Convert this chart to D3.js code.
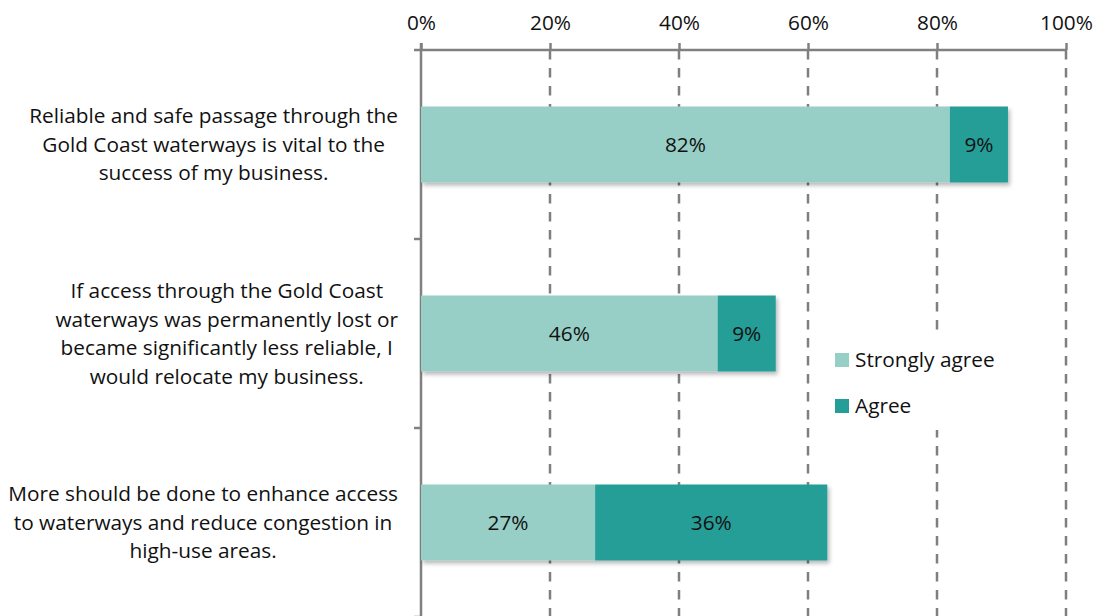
<!DOCTYPE html>
<html>
<head>
<meta charset="utf-8">
<script src="https://cdn.jsdelivr.net/npm/d3@7/dist/d3.min.js"></script>
<style>
  html, body { margin: 0; padding: 0; background: #fff; }
  svg text { font-family: "Open Sans", Lato, sans-serif; fill: #111; }
</style>
</head>
<body>
<svg id="chart" width="1098" height="616"></svg>
<script>
// Survey statements (each split into display lines)
const categories = [
  ["Reliable and safe passage through the", "Gold Coast waterways is vital to the", "success of my business."],
  ["If access through the Gold Coast", "waterways was permanently lost or", "became significantly less reliable, I", "would relocate my business."],
  ["More should be done to enhance access", "to waterways and reduce congestion in", "high-use areas."]
];
const seriesNames = ["Strongly agree", "Agree"];
const stronglyAgree = [82, 46, 27];
const agree = [9, 9, 36];
const tickValues = [0, 20, 40, 60, 80, 100];
const colors = ["#97cfc6", "#259e98"];

const FONT = 20.8;
const svg = d3.select("#chart");
const W = 1098, H = 616;
const margin = { left: 421, right: 32, top: 50, bottom: -1 };

const x = d3.scaleLinear().domain([0, 100]).range([margin.left, W - margin.right]);
const idx = d3.range(categories.length);
const y = d3.scaleBand().domain(idx).range([margin.top, H - margin.bottom])
  .paddingInner(0.598).paddingOuter(0.299);

const defs = svg.append("defs");
const f = defs.append("filter").attr("id", "shadow").attr("x", "-5%").attr("y", "-20%").attr("width", "115%").attr("height", "160%");
f.append("feDropShadow").attr("dx", 2).attr("dy", 3).attr("stdDeviation", 2.2)
  .attr("flood-color", "#000").attr("flood-opacity", 0.28);

// dashed gridlines
svg.append("g").selectAll("line").data(tickValues.slice(1)).join("line")
  .attr("x1", d => x(d)).attr("x2", d => x(d))
  .attr("y1", margin.top).attr("y2", H)
  .attr("stroke", "#7f7f7f").attr("stroke-width", 2.5)
  .attr("stroke-dasharray", "9.5,8.5");

// top axis
const xAxis = d3.axisTop(x).tickValues(tickValues).tickFormat(d => d + "%").tickSize(7).tickPadding(13);
const gx = svg.append("g").attr("transform", `translate(0,${margin.top})`).call(xAxis);
gx.select(".domain").attr("stroke", "#808080").attr("stroke-width", 2.5)
  .attr("d", `M${margin.left - 7},0H${x(100)}`);
gx.selectAll(".tick line").attr("stroke", "#808080").attr("stroke-width", 2.5);
gx.selectAll(".tick text").attr("font-size", FONT).attr("fill", "#111")
  .style("font-family", "'Open Sans', Lato, sans-serif");

// left axis with ticks at band boundaries
const step = y.step();
const boundaries = idx.map(i => y(i) + y.bandwidth() + step * y.paddingInner() / 2);
svg.append("line").attr("x1", x(0)).attr("x2", x(0)).attr("y1", margin.top - 7).attr("y2", H)
  .attr("stroke", "#808080").attr("stroke-width", 2.5);
svg.append("g").selectAll("line").data(boundaries).join("line")
  .attr("x1", x(0) - 7).attr("x2", x(0)).attr("y1", d => d).attr("y2", d => d)
  .attr("stroke", "#808080").attr("stroke-width", 2.5);

// stacked bars
const rows = idx.map(i => ({ i, vals: [stronglyAgree[i], agree[i]] }));
const barG = svg.append("g");
rows.forEach(r => {
  const g = barG.append("g").attr("filter", "url(#shadow)");
  let acc = 0;
  r.vals.forEach((v, s) => {
    g.append("rect").attr("x", x(acc)).attr("width", x(acc + v) - x(acc))
      .attr("y", y(r.i)).attr("height", y.bandwidth()).attr("fill", colors[s]);
    acc += v;
  });
});
rows.forEach(r => {
  let acc = 0;
  r.vals.forEach(v => {
    barG.append("text").attr("x", (x(acc) + x(acc + v)) / 2)
      .attr("y", y(r.i) + y.bandwidth() / 2).attr("dy", "0.35em")
      .attr("text-anchor", "middle").attr("font-size", FONT).text(v + "%");
    acc += v;
  });
});

// category labels, centered block ending near the axis
const lineH = 28.5;
const labelRight = 398;
categories.forEach((lines, i) => {
  const g = svg.append("g");
  const cy = y(i) + y.bandwidth() / 2;
  const texts = lines.map((t, k) => g.append("text").attr("font-size", FONT)
    .attr("y", cy + (k - (lines.length - 1) / 2) * lineH).attr("dy", "0.35em")
    .attr("text-anchor", "middle").text(t));
  const maxW = d3.max(texts, t => t.node().getComputedTextLength());
  texts.forEach(t => t.attr("x", labelRight - maxW / 2));
});

// legend on an opaque white box
const legend = svg.append("g");
legend.append("rect").attr("x", 826).attr("y", 330).attr("width", 180).attr("height", 100).attr("fill", "#fff");
seriesNames.forEach((n, s) => {
  const ly = 360 + s * 46;
  legend.append("rect").attr("x", 835).attr("y", ly - 7).attr("width", 14).attr("height", 14).attr("fill", colors[s]);
  legend.append("text").attr("x", 855).attr("y", ly).attr("dy", "0.35em").attr("font-size", FONT).text(n);
});
</script>
</body>
</html>
